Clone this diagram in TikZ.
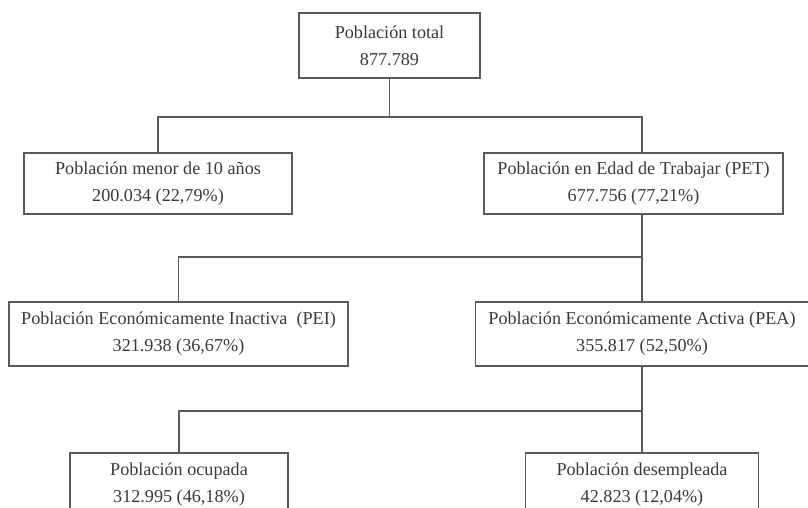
\documentclass[tikz,border=0pt]{standalone}
\usepackage{fontspec}
\setmainfont{Liberation Serif}
\usetikzlibrary{positioning}
\definecolor{linegray}{HTML}{5A5A5A}
\definecolor{textgray}{HTML}{3A3A3A}

\begin{document}
\begin{tikzpicture}[
    x=0.03cm, y=-0.03cm,
    box/.style={draw=linegray, line width=1.1pt, inner sep=0pt, align=center, text=textgray, font=\fontsize{15.5}{23}\selectfont},
    link/.style={draw=linegray, line width=1.1pt}
]
    \clip (0,0) rectangle (808,508);

    % level 1
    \node[box, minimum width=5.43cm, minimum height=1.95cm] (total) at (389.5,45.5) {Población total\\877.789};

    % level 2
    \node[box, minimum width=8.04cm, minimum height=1.83cm] (menor) at (158,183.5) {Población menor de 10 años\\200.034 (22,79\%)};
    \node[box, minimum width=8.97cm, minimum height=1.83cm] (pet) at (633.5,183.5) {Población en Edad de Trabajar (PET)\\677.756 (77,21\%)};

    % level 3
    \node[box, minimum width=10.17cm, minimum height=1.92cm] (pei) at (178.5,334) {Población Económicamente Inactiva \ (PEI)\\321.938 (36,67\%)};
    \node[box, minimum width=9.99cm, minimum height=1.92cm] (pea) at (642,334) {Población Económicamente Activa (PEA)\\355.817 (52,50\%)};

    % level 4
    \node[box, minimum width=6.54cm, minimum height=1.92cm] (ocup) at (179,485) {Población ocupada\\312.995 (46,18\%)};
    \node[box, minimum width=6.99cm, minimum height=1.92cm] (desemp) at (642,485) {Población desempleada\\42.823 (12,04\%)};

    % branches
    \coordinate (t1) at (389.5,117);
    \coordinate (t2) at (642,257);
    \coordinate (t3) at (642,411);

    \draw[link] (total.south) -- (t1);
    \draw[link] (menor.north) |- (t1) -| (pet.north -| pea.north);

    \draw[link] (pet.south -| pea.north) -- (pea.north);
    \draw[link] (t2) -| (pei.north);

    \draw[link] (pea.south) -- (desemp.north);
    \draw[link] (t3) -| (ocup.north);
\end{tikzpicture}
\end{document}
